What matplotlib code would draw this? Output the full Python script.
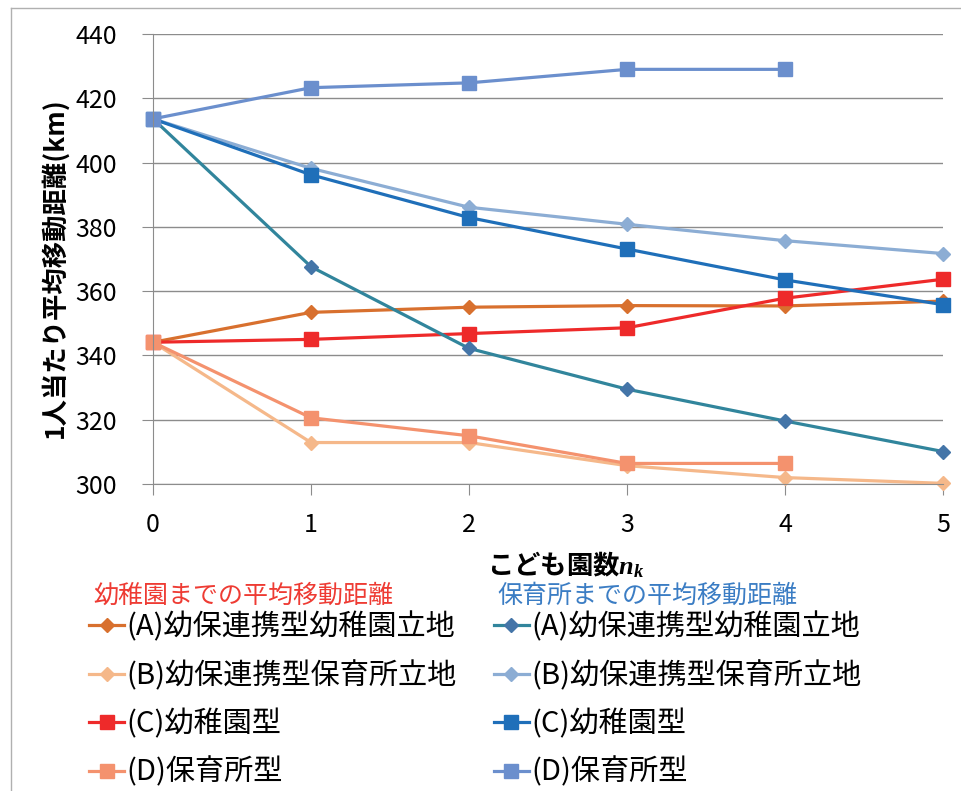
import numpy as np
import matplotlib
matplotlib.use('Agg')
import matplotlib.pyplot as pl
from matplotlib.lines import Line2D

pl.rcParams['font.family'] = ['Noto Sans CJK JP', 'DejaVu Sans']
pl.rcParams['mathtext.fontset'] = 'custom'
pl.rcParams['mathtext.it'] = 'Liberation Serif:italic:bold'
pl.rcParams['mathtext.rm'] = 'Liberation Serif:bold'

# data
n_k = [0, 1, 2, 3, 4, 5]
kinder_A = [344.1, 353.4, 355.0, 355.5, 355.4, 356.9]
kinder_B = [344.1, 312.9, 312.9, 305.7, 302.0, 300.2]
kinder_C = [344.1, 345.0, 346.8, 348.6, 357.8, 363.7]
kinder_D = [344.1, 320.6, 315.0, 306.4, 306.4]
nursery_A = [413.6, 367.6, 342.2, 329.5, 319.6, 310.1]
nursery_B = [413.6, 398.2, 386.1, 380.8, 375.7, 371.7]
nursery_C = [413.6, 396.2, 382.9, 373.1, 363.5, 355.8]
nursery_D = [413.6, 423.3, 424.8, 429.0, 429.0]

labels = ['(A)幼保連携型幼稚園立地', '(B)幼保連携型保育所立地', '(C)幼稚園型', '(D)保育所型']
y_ticks = [300, 320, 340, 360, 380, 400, 420, 440]

W, H = 962, 791
fig = pl.figure(figsize=(W / 100, H / 100), dpi=100)
ax = fig.add_axes([153 / W, 1 - 484 / H, 790 / W, 450 / H])

# outer frame: only left and top edges show
frame_kw = dict(transform=fig.transFigure, color='#b0b0b0', linewidth=1)
fig.lines.append(Line2D([10.5 / W, 10.5 / W], [0, 1 - 7.5 / H], **frame_kw))
fig.lines.append(Line2D([10.5 / W, 1], [1 - 7.5 / H, 1 - 7.5 / H], **frame_kw))

lw = 2.3
kinder_series = [
    (kinder_A, '#d8702e', '#d8702e', 'D', 7.5),
    (kinder_B, '#f5b88a', '#f5b88a', 'D', 7.5),
    (kinder_C, '#ee2a2a', '#ee2a2a', 's', 9.5),
    (kinder_D, '#f4926e', '#f4926e', 's', 9.5),
]
nursery_series = [
    (nursery_A, '#31859c', '#4475a8', 'D', 7.5),
    (nursery_B, '#8cadd4', '#8cadd4', 'D', 7.5),
    (nursery_C, '#1f6fb9', '#1f6fb9', 's', 9.5),
    (nursery_D, '#6b8fcd', '#6b8fcd', 's', 9.5),
]

k_handles = []
for vals, c, mc, m, ms in kinder_series:
    l, = ax.plot(n_k[:len(vals)], vals, color=c, lw=lw, marker=m, ms=ms,
                 mfc=mc, mec=mc, clip_on=False)
    k_handles.append(l)
n_handles = []
for vals, c, mc, m, ms in nursery_series:
    l, = ax.plot(n_k[:len(vals)], vals, color=c, lw=lw, marker=m, ms=ms,
                 mfc=mc, mec=mc, clip_on=False)
    n_handles.append(l)

ax.set_xlim(0, 5)
ax.set_ylim(300, 440)
ax.set_yticks(y_ticks)
ax.set_xticks(n_k)
ax.grid(axis='y', color='#8c8c8c', linewidth=1)
ax.set_axisbelow(True)
for s in ['top', 'right']:
    ax.spines[s].set_visible(False)
for s in ['left', 'bottom']:
    ax.spines[s].set_color('#8c8c8c')
ax.tick_params(axis='y', length=8, color='#8c8c8c', labelsize=18, pad=18)
ax.tick_params(axis='x', length=8, color='#8c8c8c', labelsize=18, pad=12)

fig.text(55 / W, 1 - 268 / H, '1人当たり平均移動距離(km)', rotation=90,
         ha='center', va='center', fontsize=19, fontweight='bold')
fig.text(487 / W, 1 - 565 / H, 'こども園数$n_k$', ha='left', va='center',
         fontsize=19, fontweight='bold')

fig.text(93 / W, 1 - 596 / H, '幼稚園までの平均移動距離', color='#ee3b33',
         ha='left', va='center', fontsize=18)
fig.text(497 / W, 1 - 596 / H, '保育所までの平均移動距離', color='#3b7dc4',
         ha='left', va='center', fontsize=18)

leg_kw = dict(loc='upper left', frameon=False, fontsize=21, handlelength=1.2,
              handletextpad=0.08, labelspacing=0.62, borderpad=0, borderaxespad=0,
              numpoints=1)
fig.legend(k_handles, labels, bbox_to_anchor=(89 / W, 1 - 612 / H), **leg_kw)
fig.legend(n_handles, labels, bbox_to_anchor=(494 / W, 1 - 612 / H), **leg_kw)

pl.savefig('out.png', dpi=100)
pl.close()
